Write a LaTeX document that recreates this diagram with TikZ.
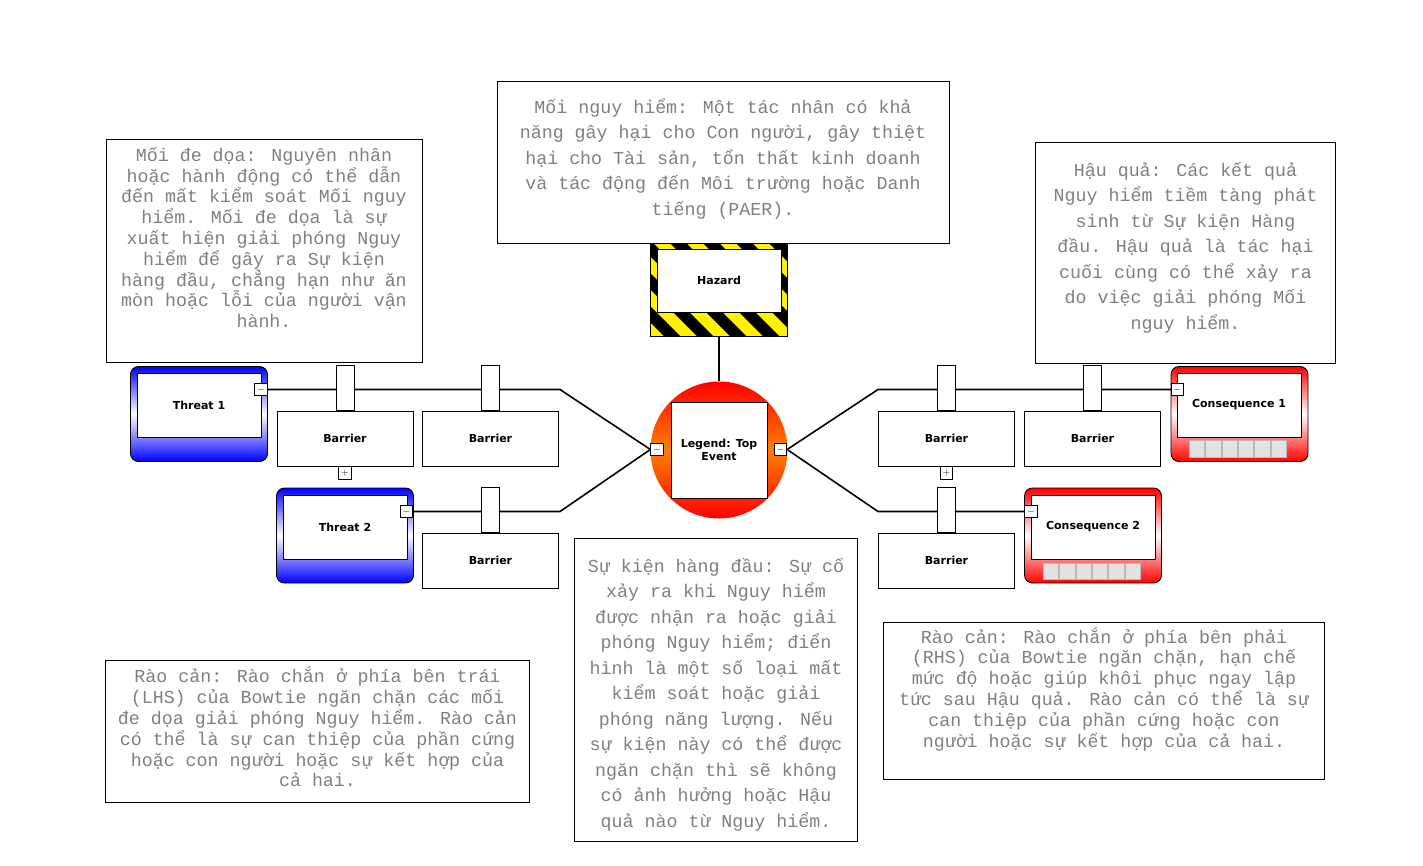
\documentclass[tikz,border=0pt]{standalone}
\usepackage{fontspec}
\usetikzlibrary{positioning, backgrounds}
\newfontfamily\notefont{Liberation Mono}
\newfontfamily\labelfont{DejaVu Sans}
\definecolor{notegray}{RGB}{128,128,128}
\definecolor{tilegray}{RGB}{226,226,226}

\begin{document}
\begin{tikzpicture}[x=1pt, y=-1pt]
  \tikzset{
    note/.style={
      draw,
      line width=0.9pt,
      fill=white,
      inner sep=0pt
    },
    notetext/.style={
      align=center,
      inner sep=0pt,
      text=notegray,
      font=\notefont\fontsize{18.3}{25.5}\selectfont
    },
    notetight/.style={
      notetext,
      font=\notefont\fontsize{18.3}{20.8}\selectfont
    },
    barrier/.style={
      draw,
      line width=0.9pt,
      fill=white,
      minimum width=136pt,
      minimum height=55pt,
      inner sep=0pt,
      font=\labelfont\bfseries\fontsize{11}{13}\selectfont
    },
    tab/.style={
      draw,
      line width=0.9pt,
      fill=white,
      minimum width=18pt,
      minimum height=45pt,
      inner sep=0pt
    },
    toggle/.style={
      draw,
      line width=0.8pt,
      fill=white,
      minimum size=12.5pt,
      inner sep=0pt,
      font=\fontsize{10}{10}\selectfont
    },
    threatframe/.style={
      draw,
      line width=0.9pt,
      rounded corners=8pt,
      top color=blue,
      bottom color=blue,
      middle color=white,
      minimum width=137pt,
      minimum height=95pt,
      inner sep=0pt
    },
    consframe/.style={
      threatframe,
      top color=red,
      bottom color=red,
      middle color=white
    },
    inbox/.style={
      draw,
      line width=0.9pt,
      fill=white,
      minimum width=124pt,
      minimum height=64pt,
      inner sep=0pt,
      align=center,
      font=\labelfont\bfseries\fontsize{11}{13}\selectfont
    },
    tile/.style={
      draw=gray!55,
      line width=0.8pt,
      fill=tilegray,
      minimum width=15.3pt,
      minimum height=16.5pt,
      inner sep=0pt
    },
    link/.style={
      line width=1.6pt
    }
  }

  \useasboundingbox (0,0) rectangle (1423,865);

  % Junctions of the bow tie
  \coordinate (jl1) at (560, 389.5);
  \coordinate (jl2) at (560, 511.5);
  \coordinate (jr1) at (878, 389.5);
  \coordinate (jr2) at (878, 511.5);

  % Hazard with the striped frame
  \begin{scope}
    \clip (650.5,238) rectangle (787.5,336);
    \fill[yellow] (650.5,238) rectangle (787.5,336);
    \foreach \sx in {495,528,...,830}
      \draw[line width=11.5pt] (\sx,225) -- ++(125,125);
  \end{scope}
  \node[draw, line width=0.9pt, minimum width=137pt, minimum height=98pt, inner sep=0pt] at (719, 287) (hazardframe) {};
  \node[inbox, minimum height=63pt] at (719, 280.5) (hazard) {Hazard};

  % Top event
  \node[circle, minimum size=137pt, inner sep=0pt, top color=red, bottom color=red, middle color=orange] at (719, 450) (topevent) {};
  \node[inbox, minimum width=96pt, minimum height=96pt] at (719, 450) (legend) {Legend: Top\\Event};
  \node[toggle] at (657, 449.5) (teml) {$-$};
  \node[toggle] at (780.5, 449.5) (temr) {$-$};

  % Threats
  \node[threatframe] at (199, 414) (threat1frame) {};
  \node[inbox] at (199, 405) (threat1) {Threat 1};
  \node[toggle] at (261, 389.5) (t1m) {$-$};
  \node[threatframe] at (345, 535.5) (threat2frame) {};
  \node[inbox] at (345, 527.5) (threat2) {Threat 2};
  \node[toggle] at (406.5, 511.5) (t2m) {$-$};

  % Consequences
  \node[consframe] at (1239.5, 414) (cons1frame) {};
  \node[inbox] at (1239, 405) (cons1) {Consequence 1};
  \foreach \k in {0,...,5}
    \node[tile] at (1197.2+16.33*\k, 449) (c1tile\k) {};
  \node[toggle] at (1177.5, 389.5) (c1m) {$-$};
  \node[consframe] at (1093, 535.5) (cons2frame) {};
  \node[inbox] at (1093, 527) (cons2) {Consequence 2};
  \foreach \k in {0,...,5}
    \node[tile] at (1051.2+16.33*\k, 571.5) (c2tile\k) {};
  \node[toggle] at (1031, 511.5) (c2m) {$-$};

  % Barriers, left side
  \node[barrier] at (345, 438.5) (bl1) {Barrier};
  \node[tab, above=0pt of bl1] (bl1tab) {};
  \node[toggle, below=0pt of bl1] (bl1p) {$+$};
  \node[barrier] at (490.5, 438.5) (bl2) {Barrier};
  \node[tab, above=0pt of bl2] (bl2tab) {};
  \node[barrier] at (490.5, 560.5) (bl3) {Barrier};
  \node[tab, above=0pt of bl3] (bl3tab) {};

  % Barriers, right side
  \node[barrier] at (946.5, 438.5) (br1) {Barrier};
  \node[tab, above=0pt of br1] (br1tab) {};
  \node[toggle, below=0pt of br1] (br1p) {$+$};
  \node[barrier] at (1092.5, 438.5) (br2) {Barrier};
  \node[tab, above=0pt of br2] (br2tab) {};
  \node[barrier] at (946.5, 560.5) (br3) {Barrier};
  \node[tab, above=0pt of br3] (br3tab) {};

  % Connectors
  \begin{scope}[on background layer]
    \draw[link] (hazardframe.south) -- (topevent.north);
    \draw[link] (t1m.east) -- (jl1) -- (teml.west);
    \draw[link] (t2m.east) -- (jl2) -- (teml.west);
    \draw[link] (temr.east) -- (jr1) -- (c1m.west);
    \draw[link] (temr.east) -- (jr2) -- (c2m.west);
  \end{scope}

  % Notes
  \node[note, minimum width=452pt, minimum height=162pt] at (723, 162.5) (hazardnote) {};
  \node[notetext] at (723, 159) (hazardtext) {Mối nguy hiểm: Một tác nhân có khả\\năng gây hại cho Con người, gây thiệt\\hại cho Tài sản, tổn thất kinh doanh\\và tác động đến Môi trường hoặc Danh\\tiếng (PAER).};

  \node[note, minimum width=316pt, minimum height=223pt] at (264, 250.5) (threatnote) {};
  \node[notetight] at (264, 237.5) (threattext) {Mối đe dọa: Nguyên nhân\\hoặc hành động có thể dẫn\\đến mất kiểm soát Mối nguy\\hiểm. Mối đe dọa là sự\\xuất hiện giải phóng Nguy\\hiểm để gây ra Sự kiện\\hàng đầu, chẳng hạn như ăn\\mòn hoặc lỗi của người vận\\hành.};

  \node[note, minimum width=300pt, minimum height=221pt] at (1185.5, 253) (consnote) {};
  \node[notetext] at (1185.5, 247.5) (constext) {Hậu quả: Các kết quả\\Nguy hiểm tiềm tàng phát\\sinh từ Sự kiện Hàng\\đầu. Hậu quả là tác hại\\cuối cùng có thể xảy ra\\do việc giải phóng Mối\\nguy hiểm.};

  \node[note, minimum width=283pt, minimum height=303pt] at (716, 689.5) (topnote) {};
  \node[notetext] at (716, 694.5) (toptext) {Sự kiện hàng đầu: Sự cố\\xảy ra khi Nguy hiểm\\được nhận ra hoặc giải\\phóng Nguy hiểm; điển\\hình là một số loại mất\\kiểm soát hoặc giải\\phóng năng lượng. Nếu\\sự kiện này có thể được\\ngăn chặn thì sẽ không\\có ảnh hưởng hoặc Hậu\\quả nào từ Nguy hiểm.};

  \node[note, minimum width=424pt, minimum height=142pt] at (317.5, 731) (lhsnote) {};
  \node[notetight] at (317.5, 727) (lhstext) {Rào cản: Rào chắn ở phía bên trái\\(LHS) của Bowtie ngăn chặn các mối\\đe dọa giải phóng Nguy hiểm. Rào cản\\có thể là sự can thiệp của phần cứng\\hoặc con người hoặc sự kết hợp của\\cả hai.};

  \node[note, minimum width=441pt, minimum height=157pt] at (1104, 700.5) (rhsnote) {};
  \node[notetight] at (1104, 689) (rhstext) {Rào cản: Rào chắn ở phía bên phải\\(RHS) của Bowtie ngăn chặn, hạn chế\\mức độ hoặc giúp khôi phục ngay lập\\tức sau Hậu quả. Rào cản có thể là sự\\can thiệp của phần cứng hoặc con\\người hoặc sự kết hợp của cả hai.};

\end{tikzpicture}
\end{document}
